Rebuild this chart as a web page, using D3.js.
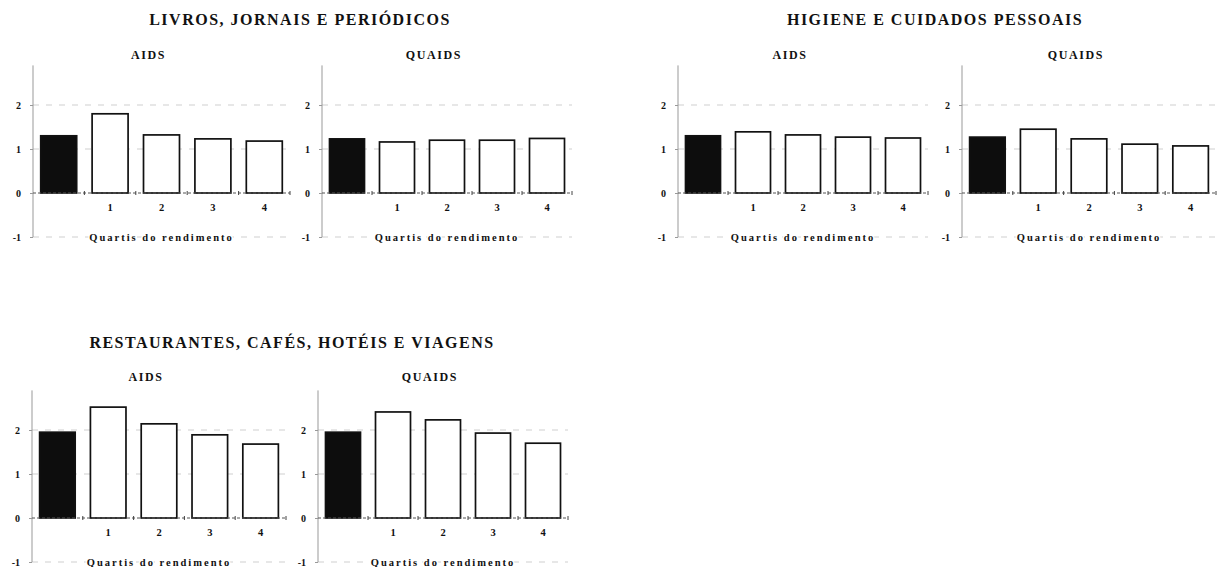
<!DOCTYPE html>
<html>
<head>
<meta charset="utf-8">
<script src="https://cdn.jsdelivr.net/npm/d3@7"></script>
<style>
  html, body { margin: 0; padding: 0; background: #fff; }
  svg { display: block; }
  text { font-family: "Liberation Serif", "Times New Roman", serif; fill: #111; }
</style>
</head>
<body>
<svg id="chart" width="1217" height="567"></svg>
<script>
// ---- data ----
const categories = ["Total", "1", "2", "3", "4"];
const yTicks = [-1, 0, 1, 2];
const groupTitles = ["LIVROS, JORNAIS E PERIÓDICOS", "HIGIENE E CUIDADOS PESSOAIS", "RESTAURANTES, CAFÉS, HOTÉIS E VIAGENS"];
const modelNames = ["AIDS", "QUAIDS"];
const xAxisTitle = "Quartis do rendimento";

const livrosAIDS    = [1.30, 1.80, 1.32, 1.23, 1.18];
const livrosQUAIDS  = [1.23, 1.16, 1.20, 1.20, 1.24];
const higieneAIDS   = [1.30, 1.39, 1.32, 1.27, 1.25];
const higieneQUAIDS = [1.27, 1.45, 1.23, 1.11, 1.07];
const restAIDS      = [1.95, 2.52, 2.14, 1.89, 1.68];
const restQUAIDS    = [1.95, 2.41, 2.23, 1.93, 1.70];

// ---- layout ----
const svg = d3.select("#chart");
const rows = [
  { yRange: [237, 65.4], titleY: 25, subY: 59 },
  { yRange: [562, 390.4], titleY: 348, subY: 381 }
];
const groups = [
  { title: groupTitles[0], row: 0, titleX: 300, panels: [{ x: [33, 290], vals: livrosAIDS }, { x: [322, 572], vals: livrosQUAIDS }] },
  { title: groupTitles[1], row: 0, titleX: 935, panels: [{ x: [678, 928], vals: higieneAIDS }, { x: [962, 1216], vals: higieneQUAIDS }] },
  { title: groupTitles[2], row: 1, titleX: 292, panels: [{ x: [32, 286], vals: restAIDS }, { x: [318, 568], vals: restQUAIDS }] }
];

groups.forEach(g => {
  const r = rows[g.row];
  svg.append("text")
    .attr("x", g.titleX).attr("y", r.titleY)
    .attr("text-anchor", "middle")
    .attr("font-size", 16).attr("font-weight", "bold")
    .attr("letter-spacing", 1.5)
    .text(g.title);

  g.panels.forEach((p, pi) => {
    const y = d3.scaleLinear().domain([-1, 2.9]).range(r.yRange);
    const x = d3.scaleBand().domain(categories).range(p.x).paddingInner(0.3).paddingOuter(0.15);
    const gp = svg.append("g");
    const x0 = p.x[0], x1 = p.x[1];

    // subtitle
    gp.append("text")
      .attr("x", (x0 + x1) / 2 - 13).attr("y", r.subY)
      .attr("text-anchor", "middle")
      .attr("font-size", 12).attr("font-weight", "bold")
      .attr("letter-spacing", 1.6)
      .text(modelNames[pi]);

    // gridlines
    [2, 1, -1].forEach(v => {
      gp.append("line")
        .attr("x1", x0).attr("x2", x1)
        .attr("y1", y(v)).attr("y2", y(v))
        .attr("stroke", "#cfcfcf").attr("stroke-width", 1)
        .attr("stroke-dasharray", "6,7");
    });

    // y axis
    const yAxis = d3.axisLeft(y).tickValues(yTicks).tickSize(3).tickFormat(d => String(d));
    const ya = gp.append("g").attr("transform", `translate(${x0},0)`).call(yAxis);
    ya.select(".domain").attr("stroke", "#999").attr("d", `M0,${r.yRange[1]}V${r.yRange[0]}`);
    ya.selectAll(".tick line").attr("stroke", "#999");
    ya.selectAll(".tick text")
      .attr("x", -12)
      .attr("font-family", "Liberation Serif, serif")
      .attr("font-size", 10).attr("font-weight", "bold").attr("fill", "#222");

    // bars
    gp.selectAll("rect.bar").data(p.vals).join("rect")
      .attr("class", "bar")
      .attr("x", (d, i) => x(categories[i]))
      .attr("width", x.bandwidth())
      .attr("y", d => y(d))
      .attr("height", d => y(0) - y(d))
      .attr("fill", (d, i) => i === 0 ? "#0d0d0d" : "#fff")
      .attr("stroke", "#111")
      .attr("stroke-width", 1.7);

    // zero baseline
    gp.append("line")
      .attr("x1", x0).attr("x2", x1)
      .attr("y1", y(0)).attr("y2", y(0))
      .attr("stroke", "#555").attr("stroke-width", 1)
      .attr("stroke-dasharray", "3,2");

    // x axis ticks at band boundaries + category labels
    const xAxis = d3.axisBottom(x).tickSize(0).tickFormat(d => d === "Total" ? "" : d);
    const xa = gp.append("g").attr("transform", `translate(0,${y(0)})`).call(xAxis);
    xa.select(".domain").remove();
    xa.selectAll(".tick text")
      .attr("dy", 0).attr("y", 18)
      .attr("font-family", "Liberation Serif, serif")
      .attr("font-size", 10.5).attr("font-weight", "bold").attr("fill", "#222");
    categories.forEach((c, i) => {
      const bx = x(c) + x.bandwidth() + x.step() * x.paddingInner() / 2;
      gp.append("line")
        .attr("x1", bx).attr("x2", bx)
        .attr("y1", y(0) - 2).attr("y2", y(0) + 2)
        .attr("stroke", "#444").attr("stroke-width", 1);
    });

    // x axis title
    gp.append("text")
      .attr("x", (x0 + x1) / 2).attr("y", y(-1) + 3.5)
      .attr("text-anchor", "middle")
      .attr("font-size", 10.5).attr("font-weight", "bold")
      .attr("letter-spacing", 2)
      .attr("stroke", "#fff").attr("stroke-width", 3).attr("paint-order", "stroke")
      .text(xAxisTitle);
  });
});
</script>
</body>
</html>
